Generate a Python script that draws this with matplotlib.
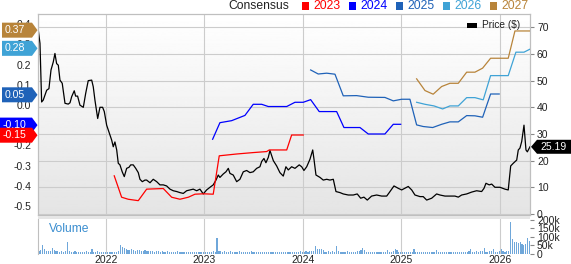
import matplotlib
matplotlib.use("Agg")
import matplotlib.pyplot as plt
import numpy as np
from matplotlib.patches import Polygon, Rectangle

plt.rcParams["font.family"] = ["Liberation Sans", "DejaVu Sans"]

# ---- data (decimal years) ----
price_t = [2021.313, 2021.330, 2021.347, 2021.363, 2021.398, 2021.421, 2021.442, 2021.465, 2021.482,
           2021.499, 2021.516, 2021.533, 2021.556, 2021.584, 2021.617, 2021.635, 2021.652, 2021.678,
           2021.692, 2021.712, 2021.736, 2021.770, 2021.794, 2021.820, 2021.855, 2021.871, 2021.888,
           2021.916, 2021.939, 2021.966, 2021.983, 2022.007, 2022.030, 2022.058, 2022.074, 2022.091,
           2022.109, 2022.125, 2022.142, 2022.165, 2022.186, 2022.210, 2022.234, 2022.251, 2022.277,
           2022.302, 2022.328, 2022.345, 2022.369, 2022.396, 2022.413, 2022.447, 2022.480, 2022.515,
           2022.548, 2022.582, 2022.616, 2022.650, 2022.683, 2022.718, 2022.751, 2022.785, 2022.819,
           2022.853, 2022.886, 2022.921, 2022.954, 2022.988, 2023.022, 2023.056, 2023.089, 2023.117,
           2023.140, 2023.157, 2023.191, 2023.218, 2023.242, 2023.259, 2023.292, 2023.327, 2023.360,
           2023.394, 2023.428, 2023.462, 2023.495, 2023.530, 2023.563, 2023.581, 2023.604, 2023.624,
           2023.648, 2023.665, 2023.699, 2023.733, 2023.766, 2023.800, 2023.827, 2023.851, 2023.885,
           2023.919, 2023.962, 2023.987, 2024.010, 2024.038, 2024.071, 2024.099, 2024.112, 2024.132,
           2024.173, 2024.206, 2024.241, 2024.274, 2024.308, 2024.335, 2024.376, 2024.409, 2024.460,
           2024.511, 2024.551, 2024.586, 2024.619, 2024.653, 2024.697, 2024.748, 2024.799, 2024.850,
           2024.876, 2024.924, 2024.968, 2025.002, 2025.053, 2025.069, 2025.104, 2025.137, 2025.188,
           2025.221, 2025.256, 2025.307, 2025.357, 2025.391, 2025.442, 2025.492, 2025.543, 2025.577,
           2025.611, 2025.662, 2025.713, 2025.763, 2025.814, 2025.838, 2025.858, 2025.891, 2025.916,
           2025.949, 2026.000, 2026.051, 2026.084, 2026.109, 2026.135, 2026.170, 2026.186, 2026.203,
           2026.221, 2026.244, 2026.264, 2026.278, 2026.305]
price = [68.9, 64.0, 42.0, 42.7, 46.4, 47.0, 54.0, 57.0, 60.2,
         56.4, 55.8, 50.2, 49.0, 41.5, 41.2, 41.7, 44.0, 46.2,
         44.2, 44.2, 40.8, 40.0, 45.2, 50.0, 50.2, 47.7, 42.7,
         35.8, 40.0, 40.0, 38.4, 33.3, 30.8, 27.7, 25.2, 27.0,
         24.0, 19.0, 18.4, 15.8, 14.0, 17.1, 17.5, 18.4, 18.4,
         17.1, 15.5, 13.0, 12.1, 12.7, 12.7, 11.7, 13.0, 12.1,
         10.9, 10.9, 10.5, 9.3, 8.7, 8.4, 8.0, 7.7, 8.7,
         9.0, 9.3, 8.7, 9.3, 7.5, 9.0, 10.0, 10.9, 12.7,
         14.6, 13.7, 15.0, 15.8, 17.1, 15.2, 14.6, 12.1, 13.0,
         15.8, 16.3, 15.5, 15.8, 17.1, 17.7, 19.7, 20.8, 19.2,
         21.2, 23.8, 20.0, 18.0, 15.5, 14.2, 17.7, 16.5, 17.7,
         17.1, 18.4, 17.7, 16.3, 17.7, 20.5, 24.0, 20.5, 14.6,
         13.7, 12.7, 13.0, 12.7, 13.0, 8.4, 8.0, 7.5, 7.1,
         7.1, 7.5, 5.9, 6.3, 5.2, 6.7, 7.1, 6.7, 6.7,
         8.0, 10.5, 9.6, 9.0, 10.0, 10.3, 9.0, 7.1, 6.5,
         6.5, 5.2, 5.9, 7.5, 7.1, 6.7, 6.7, 6.7, 6.3,
         7.1, 7.5, 8.2, 8.7, 8.4, 9.6, 11.5, 10.9, 11.2,
         10.0, 10.0, 9.3, 9.0, 18.0, 19.0, 20.2, 24.0, 24.7,
         27.2, 33.3, 24.0, 23.3, 25.19]

eps23_t = [2022.084, 2022.159, 2022.226, 2022.328, 2022.413, 2022.582, 2022.667, 2022.751, 2022.836,
           2022.904, 2022.988, 2023.089, 2023.150, 2023.327, 2023.495, 2023.631, 2023.658, 2023.835,
           2023.885, 2024.003]
eps23 = [-0.351, -0.457, -0.467, -0.474, -0.417, -0.414, -0.457, -0.467, -0.457,
         -0.442, -0.440, -0.442, -0.252, -0.243, -0.236, -0.231, -0.223, -0.223,
         -0.149, -0.149]

eps24_t = [2023.083, 2023.157, 2023.276, 2023.411, 2023.495, 2023.581, 2023.648, 2023.835, 2023.919,
           2024.003, 2024.078, 2024.165, 2024.342, 2024.416, 2024.579, 2024.663, 2024.832, 2024.917,
           2024.992]
eps24 = [-0.170, -0.088, -0.078, -0.052, 0.003, 0.003, -0.008, -0.008, 0.013,
         0.013, 0.026, -0.033, -0.033, -0.112, -0.112, -0.144, -0.144, -0.096,
         -0.096]

eps25_t = [2024.078, 2024.155, 2024.241, 2024.325, 2024.409, 2024.545, 2024.663, 2024.832, 2024.917,
           2025.002, 2025.086, 2025.154, 2025.221, 2025.317, 2025.408, 2025.492, 2025.577, 2025.662,
           2025.746, 2025.824, 2025.905, 2025.992]
eps25 = [0.173, 0.153, 0.157, 0.152, 0.045, 0.046, 0.038, 0.037, 0.020,
         0.028, 0.028, -0.099, -0.107, -0.112, -0.096, -0.084, -0.084, -0.053,
         -0.054, -0.061, 0.054, 0.054]

eps26_t = [2025.154, 2025.239, 2025.330, 2025.418, 2025.492, 2025.577, 2025.662, 2025.746, 2025.830,
           2025.905, 2026.084, 2026.162, 2026.244, 2026.305]
eps26 = [0.013, 0.003, -0.005, -0.020, -0.005, -0.005, 0.036, 0.036, 0.025,
         0.145, 0.145, 0.261, 0.261, 0.276]

eps27_t = [2025.154, 2025.239, 2025.322, 2025.408, 2025.492, 2025.577, 2025.662, 2025.746, 2025.824,
           2025.905, 2026.084, 2026.152, 2026.305]
eps27 = [0.129, 0.071, 0.053, 0.091, 0.107, 0.107, 0.162, 0.162, 0.182,
         0.231, 0.231, 0.366, 0.366]

last_eps = {"2023": -0.15, "2024": -0.10, "2025": 0.05, "2026": 0.28, "2027": 0.37}
last_price = 25.19

# weekly volume (thousands), first week 2021.32
vol_start = 2021.32
volume = [20, 25, 53, 30, 18, 20, 16, 35, 24, 18, 15, 14, 16, 13, 15, 72, 20, 14, 12, 15,
          13, 12, 14, 11, 13, 15, 12, 14, 27, 13, 12, 15, 11, 10, 13, 12, 14, 10, 12, 11,
          13, 14, 20, 53, 40, 35, 30, 25, 22, 28, 24, 20, 26, 22, 18, 20, 23, 17, 15, 19,
          16, 14, 18, 15, 13, 16, 14, 12, 15, 13, 14, 11, 13, 15, 12, 14, 11, 13, 12, 14,
          11, 13, 12, 10, 14, 12, 11, 13, 10, 12, 14, 11, 15, 13, 92, 18, 15, 13, 16, 14,
          12, 15, 13, 11, 14, 12, 16, 13, 11, 14, 12, 13, 15, 11, 12, 14, 10, 13, 12, 11,
          14, 12, 10, 13, 11, 12, 14, 10, 12, 11, 13, 10, 12, 14, 11, 10, 13, 12, 15, 14,
          12, 16, 13, 15, 18, 20, 49, 30, 28, 30, 25, 14, 12, 15, 13, 16, 14, 49, 18, 13,
          11, 14, 12, 15, 13, 11, 14, 12, 16, 18, 24, 33, 26, 14, 12, 10, 13, 11, 12, 10,
          13, 11, 12, 14, 24, 12, 10, 16, 30, 22, 12, 10, 13, 11, 12, 10, 14, 11, 30, 13,
          11, 12, 10, 13, 11, 12, 14, 10, 12, 11, 24, 12, 10, 13, 11, 12, 10, 14, 12, 11,
          13, 10, 12, 14, 11, 13, 12, 15, 30, 14, 12, 16, 13, 18, 15, 33, 14, 12, 20, 16,
          30, 14, 12, 18, 30, 15, 12, 16, 20, 190, 88, 68, 72, 66, 70, 60, 55, 58, 92, 75]

years = [2022, 2023, 2024, 2025, 2026]
price_ticks = [0, 10, 20, 30, 40, 50, 60, 70]
eps_ticks = [-0.5, -0.4, -0.3, -0.2, -0.1, 0.0, 0.1, 0.2, 0.3, 0.4]
vol_ticks = [0, 50, 100, 150, 200]

COL = {"2023": "#ff0000", "2024": "#0000ff", "2025": "#1f62b8", "2026": "#3fa3d6", "2027": "#b8843a"}
GRID = "#cccccc"
FRAME = "#bfbfbf"
TXT = "#222222"

W, H = 571, 264
fig = plt.figure(figsize=(W / 100, H / 100), dpi=100)


def fx(px):
    return px / W


def fy(py):
    return 1 - py / H


L, R, T, B = 38, 530, 14, 215
XMIN, XMAX = 2021.31, 2026.305

axp = fig.add_axes([fx(L), fy(B), fx(R) - fx(L), fy(T) - fy(B)])
ax = axp.twinx()
axv = fig.add_axes([fx(L), fy(254), fx(R) - fx(L), fy(219) - fy(254)])

# background gradient
grad = np.linspace(0.895, 1.0, 256).reshape(-1, 1)
axp.imshow(grad, cmap="gray", vmin=0, vmax=1, aspect="auto", extent=[0, 1, 1, 0],
           transform=axp.transAxes, zorder=0)

axp.plot(price_t, price, color="black", lw=0.9, zorder=3)
axp.set_xlim(XMIN, XMAX)
axp.set_ylim(-0.4, 75)
axp.set_yticks(price_ticks)
axp.set_xticks(years)
axp.set_xticklabels([])
axp.grid(True, color=GRID, lw=0.8)
axp.set_axisbelow(True)
axp.yaxis.tick_right()
axp.tick_params(axis="y", length=3, color="#888888", labelsize=7.5, labelcolor=TXT, pad=2)
axp.tick_params(axis="x", length=0)

for k, (t, v) in {"2023": (eps23_t, eps23), "2024": (eps24_t, eps24), "2025": (eps25_t, eps25),
                  "2026": (eps26_t, eps26), "2027": (eps27_t, eps27)}.items():
    ax.plot(t, v, color=COL[k], lw=0.9, zorder=4)
ax.set_ylim(-0.545, 0.45)
ax.set_xlim(XMIN, XMAX)
ax.set_yticks(eps_ticks)
ax.set_yticklabels([f"{v:.1f}" for v in eps_ticks])
ax.yaxis.tick_left()
ax.tick_params(axis="y", length=0, labelsize=7.5, labelcolor=TXT, pad=5)

for a in (axp, ax):
    for s in a.spines.values():
        s.set_color(FRAME)
        s.set_linewidth(0.8)

# volume panel
axv.bar([vol_start + i / 52 for i in range(len(volume))], volume, width=0.6 / 52,
        color="#6fa7da", linewidth=0)
axv.set_xlim(XMIN, XMAX)
axv.set_ylim(0, 205)
axv.set_xticks(years)
axv.set_xticklabels([str(y) for y in years])
axv.grid(True, axis="x", color=GRID, lw=0.8)
axv.set_axisbelow(True)
axv.set_yticks(vol_ticks)
axv.set_yticklabels(["0", "50k", "100k", "150k", "200k"])
axv.yaxis.tick_right()
axv.tick_params(axis="y", length=3, color="#888888", labelsize=7.5, labelcolor=TXT, pad=2)
axv.tick_params(axis="x", length=0, labelsize=7.5, labelcolor=TXT, pad=1)
for s in axv.spines.values():
    s.set_visible(False)
axv.spines["left"].set_visible(True)
axv.spines["left"].set_color(FRAME)
axv.text(0.022, 0.72, "Volume", transform=axv.transAxes, color="#3b8ed0", fontsize=8.7,
         ha="left", va="center")

# separator band between panels
fig.add_artist(Rectangle((fx(L), fy(219)), fx(R) - fx(L), fy(215.5) - fy(219),
                         transform=fig.transFigure, facecolor="#e6e6e6", edgecolor="none"))

# top consensus legend
fig.text(fx(228), fy(6), "Consensus", fontsize=8.7, color=TXT, ha="left", va="center")
for i, k in enumerate(["2023", "2024", "2025", "2026", "2027"]):
    x0 = 301.5 + i * 47
    fig.add_artist(Rectangle((fx(x0), fy(10)), fx(7), fy(2) - fy(10), transform=fig.transFigure,
                             facecolor=COL[k], edgecolor="none"))
    fig.text(fx(x0 + 12), fy(6), k, fontsize=8.7, color=COL[k], ha="left", va="center")

# price legend
fig.add_artist(Rectangle((fx(467), fy(28)), fx(10), fy(23) - fy(28), transform=fig.transFigure,
                         facecolor="black", edgecolor="none"))
fig.text(fx(482), fy(25.5), "Price ($)", fontsize=7.3, color=TXT, ha="left", va="center")

# value tags
fig.canvas.draw()
for k in ["2027", "2026", "2025", "2024", "2023"]:
    v = last_eps[k]
    py = H - ax.transData.transform((XMIN, v))[1]
    x0 = 0 if v < 0 else 2
    hh = 7.5
    pts = [(x0, py - hh), (32, py - hh), (37.5, py), (32, py + hh), (x0, py + hh)]
    fig.add_artist(Polygon([(fx(a), fy(b)) for a, b in pts], closed=True, transform=fig.transFigure,
                           facecolor=COL[k], edgecolor="none"))
    fig.text(fx(x0 + 3), fy(py), f"{v:.2f}", fontsize=7.6, color="white", ha="left", va="center")

py = H - axp.transData.transform((XMAX, last_price))[1]
pts = [(531, py), (537, py - 7), (571, py - 7), (571, py + 7), (537, py + 7)]
fig.add_artist(Polygon([(fx(a), fy(b)) for a, b in pts], closed=True, transform=fig.transFigure,
                       facecolor="black", edgecolor="none"))
fig.text(fx(540), fy(py), f"{last_price:.2f}", fontsize=7.5, color="white", ha="left", va="center")

fig.savefig("out.png", dpi=100)
